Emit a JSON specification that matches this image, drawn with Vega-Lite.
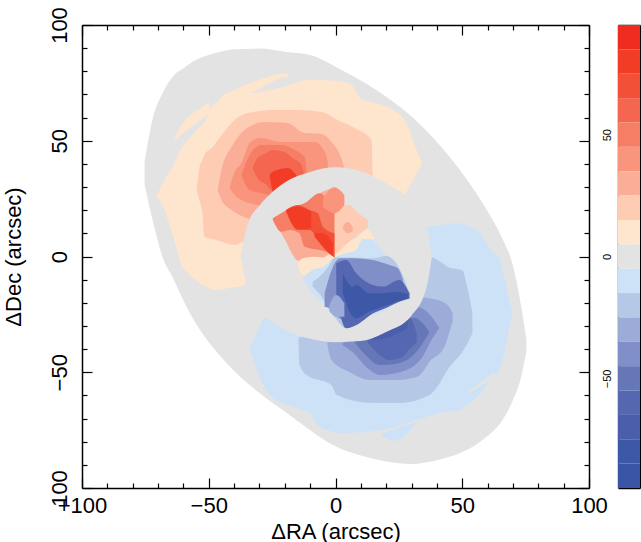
{"$schema":"https://vega.github.io/schema/vega-lite/v6.json","autosize":{"type":"none"},"padding":{"left":82,"top":25,"right":52,"bottom":54},"background":"white","config":{"view":{"stroke":null},"font":"Liberation Sans"},"datasets":{"cells":[
{"s":"grey","l":0,"x":-75.3,"y":41,"y2":31},{"s":"grey","l":0,"x":-72,"y":60,"y2":15},{"s":"grey","l":0,"x":-68,"y":71,"y2":-1},{"s":"grey","l":0,"x":-64,"y":78,"y2":-9.5},{"s":"grey","l":0,"x":-60,"y":81.3,"y2":-19},{"s":"grey","l":0,"x":-55,"y":85,"y2":-29},{"s":"grey","l":0,"x":-50,"y":87,"y2":-37},{"s":"grey","l":0,"x":-45,"y":88.5,"y2":-43.5},{"s":"grey","l":0,"x":-40,"y":89.5,"y2":-49.5},{"s":"grey","l":0,"x":-30,"y":89.8,"y2":-59},{"s":"grey","l":0,"x":-20,"y":88.4,"y2":-67},{"s":"grey","l":0,"x":-10,"y":87,"y2":-75},{"s":"grey","l":0,"x":0,"y":82,"y2":-82},{"s":"grey","l":0,"x":10,"y":76,"y2":-86},{"s":"grey","l":0,"x":20,"y":69,"y2":-88.5},{"s":"grey","l":0,"x":30,"y":60.5,"y2":-89.6},{"s":"grey","l":0,"x":40,"y":49.5,"y2":-88},{"s":"grey","l":0,"x":50,"y":36,"y2":-84.5},{"s":"grey","l":0,"x":60,"y":19.5,"y2":-77.5},{"s":"grey","l":0,"x":65,"y":9.5,"y2":-72},{"s":"grey","l":0,"x":70,"y":-4,"y2":-62},{"s":"grey","l":0,"x":73,"y":-20,"y2":-53},{"s":"grey","l":0,"x":75.3,"y":-36,"y2":-41},
{"s":"p10","l":10,"x":-70.6,"y":25.7,"y2":25.7},{"s":"p10","l":10,"x":-67.5,"y":33,"y2":20.5},{"s":"p10","l":10,"x":-65.5,"y":36.5,"y2":13.6},{"s":"p10","l":10,"x":-63.5,"y":40.4,"y2":6.7},{"s":"p10","l":10,"x":-60.7,"y":46.9,"y2":-4},{"s":"p10","l":10,"x":-58.4,"y":49.9,"y2":-6.7},{"s":"p10","l":10,"x":-53.6,"y":56,"y2":-11.4},{"s":"p10","l":10,"x":-51.7,"y":58,"y2":-12.7},{"s":"p10","l":10,"x":-50.1,"y":62.4,"y2":-13.6},{"s":"p10","l":10,"x":-46.9,"y":66.7,"y2":-14.5},{"s":"p10","l":10,"x":-41.8,"y":71,"y2":-13.6},{"s":"p10","l":10,"x":-35.9,"y":70.9,"y2":-12.3},{"s":"p10","l":10,"x":-32.7,"y":70.6,"y2":0},{"s":"p10","l":10,"x":-26,"y":71.9,"y2":0},{"s":"p10","l":10,"x":-22,"y":72.8,"y2":0},{"s":"p10","l":10,"x":-10.3,"y":76.2,"y2":0},{"s":"p10","l":10,"x":-6.3,"y":76.2,"y2":0},{"s":"p10","l":10,"x":5.5,"y":74.9,"y2":0},{"s":"p10","l":10,"x":10.7,"y":67.6,"y2":20},{"s":"p10","l":10,"x":16.2,"y":66.3,"y2":25},{"s":"p10","l":10,"x":27.2,"y":59,"y2":26.6},{"s":"p10","l":10,"x":28.4,"y":56.8,"y2":28.7},{"s":"p10","l":10,"x":31.2,"y":48.2,"y2":34.3},{"s":"p10","l":10,"x":34.3,"y":40.4,"y2":40.4},
{"s":"t1","l":10,"x":-63.5,"y":51.2,"y2":49.5},{"s":"t1","l":10,"x":-61.5,"y":55.5,"y2":51.8},{"s":"t1","l":10,"x":-52.5,"y":64.6,"y2":59.5},{"s":"t1","l":10,"x":-49.7,"y":66.7,"y2":62},
{"s":"t2","l":10,"x":-41.8,"y":71,"y2":69.8},{"s":"t2","l":10,"x":-32.7,"y":75.4,"y2":71},{"s":"t2","l":10,"x":-26,"y":77.9,"y2":74.9},{"s":"t2","l":10,"x":-19.3,"y":79.2,"y2":77.6},{"s":"t2","l":10,"x":-18.5,"y":77.5,"y2":77.5},
{"s":"p20","l":20,"x":-54.8,"y":28.7,"y2":28.7},{"s":"p20","l":20,"x":-53.6,"y":38.7,"y2":24},{"s":"p20","l":20,"x":-52.5,"y":41.7,"y2":18.8},{"s":"p20","l":20,"x":-51.7,"y":43.8,"y2":8.4},{"s":"p20","l":20,"x":-48.5,"y":47.3,"y2":7.6},{"s":"p20","l":20,"x":-45.8,"y":51.2,"y2":6.7},{"s":"p20","l":20,"x":-39.8,"y":59,"y2":5},{"s":"p20","l":20,"x":-34.7,"y":62,"y2":7},{"s":"p20","l":20,"x":-24,"y":63.3,"y2":7},{"s":"p20","l":20,"x":-15,"y":63.3,"y2":7},{"s":"p20","l":20,"x":-5.5,"y":62.4,"y2":7},{"s":"p20","l":20,"x":0.8,"y":59,"y2":7},{"s":"p20","l":20,"x":7.5,"y":55.5,"y2":7},{"s":"p20","l":20,"x":14.2,"y":50.3,"y2":20},{"s":"p20","l":20,"x":14.6,"y":36.5,"y2":33.9},
{"s":"p30","l":30,"x":-46.5,"y":28.7,"y2":28.7},{"s":"p30","l":30,"x":-45,"y":37.4,"y2":24.4},{"s":"p30","l":30,"x":-41,"y":47.3,"y2":20.1},{"s":"p30","l":30,"x":-35.9,"y":54.6,"y2":17},{"s":"p30","l":30,"x":-28,"y":58.1,"y2":15},{"s":"p30","l":30,"x":-18.9,"y":57.7,"y2":15},{"s":"p30","l":30,"x":-12.2,"y":53.3,"y2":15},{"s":"p30","l":30,"x":-5.5,"y":52.9,"y2":15},{"s":"p30","l":30,"x":-1.6,"y":49.5,"y2":15},{"s":"p30","l":30,"x":2.8,"y":40.8,"y2":20},{"s":"p30","l":30,"x":3.6,"y":37.4,"y2":30},
{"s":"p40","l":40,"x":-41.8,"y":29.6,"y2":29.6},{"s":"p40","l":40,"x":-39.8,"y":36.5,"y2":26.6},{"s":"p40","l":40,"x":-37.1,"y":40.4,"y2":24.4},{"s":"p40","l":40,"x":-33.9,"y":49,"y2":23.1},{"s":"p40","l":40,"x":-30,"y":51.2,"y2":22},{"s":"p40","l":40,"x":-21.3,"y":49.5,"y2":20},{"s":"p40","l":40,"x":-8.3,"y":49.5,"y2":20},{"s":"p40","l":40,"x":-3.6,"y":43.8,"y2":25},{"s":"p40","l":40,"x":-2.8,"y":37.4,"y2":30},
{"s":"p50","l":50,"x":-37.1,"y":35.2,"y2":35.2},{"s":"p50","l":50,"x":-33.9,"y":43.8,"y2":28.7},{"s":"p50","l":50,"x":-29.2,"y":48.2,"y2":27.4},{"s":"p50","l":50,"x":-21.3,"y":48.2,"y2":25},{"s":"p50","l":50,"x":-16.2,"y":46,"y2":25},{"s":"p50","l":50,"x":-12.2,"y":43,"y2":25},{"s":"p50","l":50,"x":-11.4,"y":36.5,"y2":30},
{"s":"p60","l":60,"x":-32.7,"y":38.2,"y2":38.2},{"s":"p60","l":60,"x":-30.8,"y":42.5,"y2":33.9},{"s":"p60","l":60,"x":-27.2,"y":44.7,"y2":30.9},{"s":"p60","l":60,"x":-24.9,"y":46,"y2":27.9},{"s":"p60","l":60,"x":-20.1,"y":45.1,"y2":25},{"s":"p60","l":60,"x":-17,"y":42.5,"y2":25},{"s":"p60","l":60,"x":-13.4,"y":39.5,"y2":25},{"s":"p60","l":60,"x":-12.6,"y":36.5,"y2":30},
{"s":"p70","l":80,"x":-26,"y":35.2,"y2":35.2},{"s":"p70","l":80,"x":-24.9,"y":36.5,"y2":28.7},{"s":"p70","l":80,"x":-22.9,"y":37.4,"y2":25},{"s":"p70","l":80,"x":-18.9,"y":38.2,"y2":25},{"s":"p70","l":80,"x":-15.4,"y":35.2,"y2":30},
{"s":"n10","l":-10,"x":-33.9,"y":-39.5,"y2":-39.5},{"s":"n10","l":-10,"x":-31,"y":-33,"y2":-49},{"s":"n10","l":-10,"x":-28,"y":-26.6,"y2":-56.4},{"s":"n10","l":-10,"x":-24.9,"y":-28,"y2":-60.7},{"s":"n10","l":-10,"x":-15.4,"y":-32,"y2":-65.4},{"s":"n10","l":-10,"x":-10.3,"y":-30,"y2":-67.6},{"s":"n10","l":-10,"x":-6.3,"y":-28,"y2":-73.6},{"s":"n10","l":-10,"x":2.8,"y":-20,"y2":-76.2},{"s":"n10","l":-10,"x":18.5,"y":-20,"y2":-74.9},{"s":"n10","l":-10,"x":32,"y":-10,"y2":-70.6},{"s":"n10","l":-10,"x":35.9,"y":12.3,"y2":-69.3},{"s":"n10","l":-10,"x":41,"y":13.5,"y2":-67.6},{"s":"n10","l":-10,"x":48.9,"y":14.5,"y2":-66.3},{"s":"n10","l":-10,"x":50.1,"y":14,"y2":-65.4},{"s":"n10","l":-10,"x":56.8,"y":10.2,"y2":-59.5},{"s":"n10","l":-10,"x":58.8,"y":7,"y2":-56.8},{"s":"n10","l":-10,"x":63.1,"y":1,"y2":-51.2},{"s":"n10","l":-10,"x":64.7,"y":-0.2,"y2":-49},{"s":"n10","l":-10,"x":65.9,"y":-5.8,"y2":-45},{"s":"n10","l":-10,"x":68.6,"y":-19,"y2":-30.5},{"s":"n10","l":-10,"x":69.8,"y":-24.4,"y2":-24.4},
{"s":"slit","l":0,"x":52,"y":-58.3,"y2":-59.4},{"s":"slit","l":0,"x":62.7,"y":-49.9,"y2":-52.5},
{"s":"strip","l":-10,"x":18.1,"y":-76.7,"y2":-77.2},{"s":"strip","l":-10,"x":23.3,"y":-74.5,"y2":-79.7},{"s":"strip","l":-10,"x":32,"y":-71.5,"y2":-71.5},
{"s":"n20","l":-20,"x":-14.6,"y":-35.2,"y2":-35.2},{"s":"n20","l":-20,"x":-14.2,"y":-35,"y2":-46.9},{"s":"n20","l":-20,"x":-11.4,"y":-34,"y2":-51.2},{"s":"n20","l":-20,"x":-1.6,"y":-30,"y2":-55.5},{"s":"n20","l":-20,"x":0.4,"y":-30,"y2":-59.8},{"s":"n20","l":-20,"x":14.6,"y":-25,"y2":-63.3},{"s":"n20","l":-20,"x":25.2,"y":-20,"y2":-63.3},{"s":"n20","l":-20,"x":37.1,"y":-0.2,"y2":-59.8},{"s":"n20","l":-20,"x":43,"y":-3.5,"y2":-51.2},{"s":"n20","l":-20,"x":44.2,"y":-4.5,"y2":-49},{"s":"n20","l":-20,"x":50.1,"y":-6,"y2":-41},{"s":"n20","l":-20,"x":51.7,"y":-12,"y2":-38.2},{"s":"n20","l":-20,"x":54,"y":-24.4,"y2":-33},
{"s":"n30","l":-30,"x":-3.2,"y":-37,"y2":-38.2},{"s":"n30","l":-30,"x":-1.6,"y":-36,"y2":-44.7},{"s":"n30","l":-30,"x":5.5,"y":-35,"y2":-49.9},{"s":"n30","l":-30,"x":13.4,"y":-32,"y2":-53.3},{"s":"n30","l":-30,"x":24,"y":-25,"y2":-53.3},{"s":"n30","l":-30,"x":32,"y":-17,"y2":-52},{"s":"n30","l":-30,"x":34.3,"y":-17.6,"y2":-50},{"s":"n30","l":-30,"x":37,"y":-18,"y2":-45.6},{"s":"n30","l":-30,"x":43,"y":-20,"y2":-39},{"s":"n30","l":-30,"x":44.2,"y":-21,"y2":-35.2},{"s":"n30","l":-30,"x":46.2,"y":-24.4,"y2":-28},
{"s":"n40","l":-40,"x":2.8,"y":-37.5,"y2":-38.2},{"s":"n40","l":-40,"x":6.7,"y":-36,"y2":-41.3},{"s":"n40","l":-40,"x":12.6,"y":-35,"y2":-48.2},{"s":"n40","l":-40,"x":17.4,"y":-32,"y2":-51.2},{"s":"n40","l":-40,"x":28,"y":-26,"y2":-49},{"s":"n40","l":-40,"x":30,"y":-24.4,"y2":-48},{"s":"n40","l":-40,"x":32.3,"y":-21.8,"y2":-46},{"s":"n40","l":-40,"x":34.3,"y":-22.5,"y2":-43.4},{"s":"n40","l":-40,"x":37.9,"y":-26,"y2":-36},{"s":"n40","l":-40,"x":41,"y":-30.9,"y2":-30.9},
{"s":"n50","l":-50,"x":7.5,"y":-36.5,"y2":-36.9},{"s":"n50","l":-50,"x":12.6,"y":-35,"y2":-43.4},{"s":"n50","l":-50,"x":17.4,"y":-32,"y2":-46.9},{"s":"n50","l":-50,"x":25.2,"y":-28,"y2":-46},{"s":"n50","l":-50,"x":31.2,"y":-26.5,"y2":-42},{"s":"n50","l":-50,"x":33.1,"y":-27.5,"y2":-39.5},{"s":"n50","l":-50,"x":37.1,"y":-32.6,"y2":-32.6},
{"s":"n60","l":-60,"x":12.6,"y":-34.5,"y2":-37},{"s":"n60","l":-60,"x":17.4,"y":-31.8,"y2":-42.5},{"s":"n60","l":-60,"x":21.3,"y":-29.6,"y2":-44.7},{"s":"n60","l":-60,"x":26.4,"y":-26.5,"y2":-43.4},{"s":"n60","l":-60,"x":29.2,"y":-26.5,"y2":-40},{"s":"n60","l":-60,"x":32,"y":-33,"y2":-37.4},
{"s":"n70","l":-70,"x":14.2,"y":-30,"y2":-36},{"s":"n70","l":-70,"x":19.3,"y":-30,"y2":-35.5},{"s":"n70","l":-70,"x":24,"y":-28,"y2":-33.5},{"s":"n70","l":-70,"x":28.4,"y":-26,"y2":-31},
{"s":"ring","l":0,"x":-37.5,"y":-0.2,"y2":-0.2},{"s":"ring","l":0,"x":-35,"y":12.7,"y2":-12.3},{"s":"ring","l":0,"x":-30,"y":22,"y2":-23.1},{"s":"ring","l":0,"x":-27,"y":25.7,"y2":-26.5},{"s":"ring","l":0,"x":-20,"y":32,"y2":-31.7},{"s":"ring","l":0,"x":-10,"y":36.5,"y2":-35.5},{"s":"ring","l":0,"x":0,"y":38.5,"y2":-37},{"s":"ring","l":0,"x":10,"y":36.8,"y2":-36.5},{"s":"ring","l":0,"x":20,"y":31.5,"y2":-32.6},{"s":"ring","l":0,"x":30,"y":23.5,"y2":-25.5},{"s":"ring","l":0,"x":36,"y":12.7,"y2":-13},{"s":"ring","l":0,"x":38,"y":-0.2,"y2":-0.2},
{"s":"b10","l":-10,"x":-14.9,"y":-2.95,"y2":-2.95},{"s":"b10","l":-10,"x":-12.9,"y":-0.8,"y2":-8.7},{"s":"b10","l":-10,"x":-4.3,"y":0.6,"y2":-20.9},{"s":"b10","l":-10,"x":8.2,"y":7.9,"y2":-29.6},{"s":"b10","l":-10,"x":12.8,"y":7.9,"y2":-26},{"s":"b10","l":-10,"x":20,"y":0.6,"y2":-23.1},{"s":"b10","l":-10,"x":24,"y":-2.95,"y2":-19.5},{"s":"b10","l":-10,"x":29.2,"y":-15.9,"y2":-18.1},
{"s":"b20","l":-20,"x":-9,"y":-10.9,"y2":-13},{"s":"b20","l":-20,"x":-5,"y":-7.3,"y2":-18.1},{"s":"b20","l":-20,"x":-2.4,"y":-3.7,"y2":-23.1},{"s":"b20","l":-20,"x":-0.4,"y":-0.4,"y2":-26},{"s":"b20","l":-20,"x":4.2,"y":-0.4,"y2":-31},{"s":"b20","l":-20,"x":8.2,"y":-0.4,"y2":-29.6},{"s":"b20","l":-20,"x":14.7,"y":-0.8,"y2":-24.6},{"s":"b20","l":-20,"x":20,"y":0.2,"y2":-22},{"s":"b20","l":-20,"x":24,"y":-2.95,"y2":-19.8},{"s":"b20","l":-20,"x":29.2,"y":-15.9,"y2":-18.1},
{"s":"b40","l":-40,"x":-4.3,"y":-15.9,"y2":-21.7},{"s":"b40","l":-40,"x":-1,"y":-4.4,"y2":-23.1},{"s":"b40","l":-40,"x":1.6,"y":-0.8,"y2":-26.7},{"s":"b40","l":-40,"x":6.8,"y":-0.8,"y2":-28.2},{"s":"b40","l":-40,"x":14.7,"y":-1.5,"y2":-24.3},{"s":"b40","l":-40,"x":21.3,"y":-3.7,"y2":-20.9},{"s":"b40","l":-40,"x":24.6,"y":-5.1,"y2":-19.5},{"s":"b40","l":-40,"x":26.6,"y":-10.1,"y2":-18.8},
{"s":"b60","l":-60,"x":0.3,"y":-2.95,"y2":-17.3},{"s":"b60","l":-60,"x":4.2,"y":-1.5,"y2":-31},{"s":"b60","l":-60,"x":8.2,"y":-7.3,"y2":-29.6},{"s":"b60","l":-60,"x":14.7,"y":-12.3,"y2":-24.6},{"s":"b60","l":-60,"x":18.7,"y":-13,"y2":-22.8},{"s":"b60","l":-60,"x":25.2,"y":-10.1,"y2":-19.5},{"s":"b60","l":-60,"x":29.2,"y":-15.9,"y2":-18.1},
{"s":"b30","l":-30,"x":-2.4,"y":-20.9,"y2":-23.8},{"s":"b30","l":-30,"x":0.3,"y":-16.6,"y2":-26},{"s":"b30","l":-30,"x":3.5,"y":-20.2,"y2":-26},
{"s":"b80","l":-80,"x":2.9,"y":-7.3,"y2":-15.9},{"s":"b80","l":-80,"x":6.8,"y":-13,"y2":-26},{"s":"b80","l":-80,"x":8.2,"y":-12.3,"y2":-26.7},{"s":"b80","l":-80,"x":13.4,"y":-15.9,"y2":-23.8},{"s":"b80","l":-80,"x":18.7,"y":-15.9,"y2":-21.7},{"s":"b80","l":-80,"x":24,"y":-15.2,"y2":-19.5},{"s":"b80","l":-80,"x":28.5,"y":-16.2,"y2":-18.1},
{"s":"r30","l":30,"x":-24.7,"y":16.5,"y2":15.8},{"s":"r30","l":30,"x":-21.4,"y":18.7,"y2":10},{"s":"r30","l":30,"x":-19.5,"y":20.1,"y2":6.4},{"s":"r30","l":30,"x":-16.8,"y":21.2,"y2":0.6},{"s":"r30","l":30,"x":-14.9,"y":21.8,"y2":-1.8},{"s":"r30","l":30,"x":-12.2,"y":23,"y2":-1.5},{"s":"r30","l":30,"x":-6.3,"y":27.3,"y2":-0.4},{"s":"r30","l":30,"x":-0.4,"y":29.9,"y2":-0.4},
{"s":"r10","l":10,"x":-14.9,"y":-2.95,"y2":-3.7},{"s":"r10","l":10,"x":-12.9,"y":-0.8,"y2":-8.4},{"s":"r10","l":10,"x":-9,"y":-0.1,"y2":-5.8},{"s":"r10","l":10,"x":-5,"y":-0.4,"y2":-4.4},{"s":"r10","l":10,"x":-0.4,"y":3.5,"y2":-0.4},{"s":"r10","l":10,"x":4.2,"y":7.1,"y2":1.4},{"s":"r10","l":10,"x":8.2,"y":7.9,"y2":2.8},{"s":"r10","l":10,"x":10.8,"y":10.7,"y2":7.6},{"s":"r10","l":10,"x":12.8,"y":11.7,"y2":7.4},{"s":"r10","l":10,"x":15.4,"y":7.9,"y2":7.6},
{"s":"r20","l":20,"x":-0.4,"y":21.5,"y2":0.6},{"s":"r20","l":20,"x":5.5,"y":22.3,"y2":6.4},{"s":"r20","l":20,"x":8.2,"y":19.4,"y2":8.6},{"s":"r20","l":20,"x":12.8,"y":15.8,"y2":12.6},
{"s":"r31","l":30,"x":2.9,"y":13,"y2":12},{"s":"r31","l":30,"x":4.8,"y":15,"y2":10},{"s":"r31","l":30,"x":6.8,"y":12.5,"y2":11},
{"s":"r50","l":50,"x":-24.7,"y":16.5,"y2":15.8},{"s":"r50","l":50,"x":-21.4,"y":18.7,"y2":10.7},{"s":"r50","l":50,"x":-18.1,"y":20.5,"y2":11.5},{"s":"r50","l":50,"x":-14.2,"y":22.2,"y2":10},{"s":"r50","l":50,"x":-12.2,"y":23,"y2":4.2},{"s":"r50","l":50,"x":-6.3,"y":27.3,"y2":2.8},{"s":"r50","l":50,"x":-2.4,"y":23,"y2":1.4},{"s":"r50","l":50,"x":-0.4,"y":18.7,"y2":-0.4},
{"s":"r40","l":40,"x":-5,"y":25.1,"y2":21.5},{"s":"r40","l":40,"x":-0.4,"y":29.9,"y2":18.7},{"s":"r40","l":40,"x":3.5,"y":26.6,"y2":22.3},
{"s":"r70","l":70,"x":-19.5,"y":20.1,"y2":19.4},{"s":"r70","l":70,"x":-14.9,"y":22.2,"y2":11.5},{"s":"r70","l":70,"x":-10.3,"y":20.1,"y2":11.5},{"s":"r70","l":70,"x":-7,"y":18.7,"y2":7.9},{"s":"r70","l":70,"x":-5,"y":12.9,"y2":4.2},{"s":"r70","l":70,"x":-0.4,"y":10,"y2":-0.4},
{"s":"r80","l":80,"x":-19.5,"y":20.1,"y2":19.8},{"s":"r80","l":80,"x":-14.9,"y":21.5,"y2":11.8},{"s":"r80","l":80,"x":-9.6,"y":19.4,"y2":12.2},
{"s":"r81","l":80,"x":-8.3,"y":10,"y2":8.6},{"s":"r81","l":80,"x":-5,"y":10,"y2":4.2},{"s":"r81","l":80,"x":-1,"y":5.7,"y2":0.2}
],
"bar":[{"l":90,"a":85,"b":95,"u":0,"w":1},{"l":80,"a":75,"b":85,"u":0,"w":1},{"l":70,"a":65,"b":75,"u":0,"w":1},{"l":60,"a":55,"b":65,"u":0,"w":1},{"l":50,"a":45,"b":55,"u":0,"w":1},{"l":40,"a":35,"b":45,"u":0,"w":1},{"l":30,"a":25,"b":35,"u":0,"w":1},{"l":20,"a":15,"b":25,"u":0,"w":1},{"l":10,"a":5,"b":15,"u":0,"w":1},{"l":0,"a":-5,"b":5,"u":0,"w":1},{"l":-10,"a":-15,"b":-5,"u":0,"w":1},{"l":-20,"a":-25,"b":-15,"u":0,"w":1},{"l":-30,"a":-35,"b":-25,"u":0,"w":1},{"l":-40,"a":-45,"b":-35,"u":0,"w":1},{"l":-50,"a":-55,"b":-45,"u":0,"w":1},{"l":-60,"a":-65,"b":-55,"u":0,"w":1},{"l":-70,"a":-75,"b":-65,"u":0,"w":1},{"l":-80,"a":-85,"b":-75,"u":0,"w":1},{"l":-90,"a":-95,"b":-85,"u":0,"w":1}]},
"width":507,"height":463,"resolve":{"scale":{"x":"independent","y":"independent"},"axis":{"x":"independent","y":"independent"}},"layer":[
{"data":{"name":"cells"},"mark":{"type":"area","interpolate":"monotone"},"encoding":{
"x":{"field":"x","type":"quantitative","scale":{"domain":[-100,100],"nice":false,"zero":false},"axis":{"orient":"bottom","title":"ΔRA (arcsec)","titleFontSize":22,"titleFontWeight":"normal","titleFont":"Liberation Sans","titleColor":"#000","titlePadding":0,"values":[-100,-90,-80,-70,-60,-50,-40,-30,-20,-10,0,10,20,30,40,50,60,70,80,90,100],"labelExpr":"datum.value==-100?'+100':datum.value==-50?'−50':datum.value%50==0?datum.label:''","labelFontSize":22,"labelColor":"#000","labelFont":"Liberation Sans","labelOverlap":false,"labelFlush":false,"labelPadding":17,"labelAngle":0,"grid":false,"domainColor":"#000","domainWidth":1.5,"tickColor":"#000","tickWidth":1.2,"tickSize":{"condition":{"test":"datum.value%50==0","value":-10},"value":-5}}},
"y":{"field":"y","type":"quantitative","scale":{"domain":[-100,100],"nice":false,"zero":false},"axis":{"orient":"left","title":"ΔDec (arcsec)","titleFontSize":22,"titleFontWeight":"normal","titleFont":"Liberation Sans","titleColor":"#000","titlePadding":18,"values":[-100,-90,-80,-70,-60,-50,-40,-30,-20,-10,0,10,20,30,40,50,60,70,80,90,100],"labelExpr":"datum.value==-100?'\u00a0\u00a0\u00a0100':datum.value==-50?'−50':datum.value%50==0?datum.label:''","labelFontSize":22,"labelColor":"#000","labelFont":"Liberation Sans","labelOverlap":false,"labelFlush":false,"labelPadding":21,"labelAngle":270,"grid":false,"domainColor":"#000","domainWidth":1.5,"tickColor":"#000","tickWidth":1.2,"tickSize":{"condition":{"test":"datum.value%50==0","value":-10},"value":-5}}},
"y2":{"field":"y2"},
"detail":{"field":"s","type":"nominal"},
"color":{"field":"l","type":"ordinal","legend":null,"scale":{"domain":[-90,-80,-70,-60,-50,-40,-30,-20,-10,0,10,20,30,40,50,60,70,80,90],"range":["#3a55a6","#3e58a8","#4a5eab","#5567b0","#6677b8","#808fc8","#9dabd9","#b5c8e6","#cde2f6","#e3e3e3","#fee5cd","#fdccb3","#fbae97","#f9947d","#f67e65","#f56650","#f35038","#f23c25","#f02b20"]}}
}},
{"data":{"values":[{"x":0,"y":0}]},"mark":{"type":"point","opacity":0},"encoding":{
"x":{"field":"x","type":"quantitative","scale":{"domain":[-100,100],"nice":false,"zero":false},"axis":{"orient":"top","title":null,"labels":false,"values":[-100,-90,-80,-70,-60,-50,-40,-30,-20,-10,0,10,20,30,40,50,60,70,80,90,100],"grid":false,"domainColor":"#000","domainWidth":1.5,"tickColor":"#000","tickWidth":1.2,"tickSize":{"condition":{"test":"datum.value%50==0","value":-10},"value":-5}}},
"y":{"field":"y","type":"quantitative","scale":{"domain":[-100,100],"nice":false,"zero":false},"axis":{"orient":"right","title":null,"labels":false,"values":[-100,-90,-80,-70,-60,-50,-40,-30,-20,-10,0,10,20,30,40,50,60,70,80,90,100],"grid":false,"domainColor":"#000","domainWidth":1.5,"tickColor":"#000","tickWidth":1.2,"tickSize":{"condition":{"test":"datum.value%50==0","value":-10},"value":-5}}}
}},
{"data":{"name":"bar"},"mark":{"type":"rect"},"encoding":{
"x":{"field":"u","type":"quantitative","scale":{"domain":[0,1],"range":[536,558],"nice":false,"zero":false},"axis":{"orient":"top","title":null,"labels":false,"ticks":false,"grid":false,"domainColor":"#000","domainWidth":1.5}},
"x2":{"field":"w"},
"y":{"field":"a","type":"quantitative","scale":{"domain":[-95,95],"nice":false,"zero":false},"axis":{"orient":"left","offset":-536,"title":null,"values":[-90,-80,-70,-60,-50,-40,-30,-20,-10,0,10,20,30,40,50,60,70,80,90],"labelExpr":"datum.value==-50?'−50':datum.value%50==0?datum.label:''","labelFontSize":11,"labelColor":"#000","labelFont":"Liberation Sans","labelOverlap":false,"labelFlush":false,"labelPadding":10,"labelAngle":270,"grid":false,"domainColor":"#555","domainWidth":1.5,"tickColor":"#000","tickWidth":1,"tickSize":{"condition":{"test":"datum.value%50==0","value":-4.5},"value":-2}}},
"y2":{"field":"b"},
"color":{"field":"l","type":"ordinal","legend":null,"scale":{"domain":[-90,-80,-70,-60,-50,-40,-30,-20,-10,0,10,20,30,40,50,60,70,80,90],"range":["#3a55a6","#3e58a8","#4a5eab","#5567b0","#6677b8","#808fc8","#9dabd9","#b5c8e6","#cde2f6","#e3e3e3","#fee5cd","#fdccb3","#fbae97","#f9947d","#f67e65","#f56650","#f35038","#f23c25","#f02b20"]}}
}},
{"data":{"values":[{"u":0,"a":0}]},"mark":{"type":"point","opacity":0},"encoding":{
"x":{"field":"u","type":"quantitative","scale":{"domain":[0,1],"range":[536,558],"nice":false,"zero":false},"axis":{"orient":"bottom","title":null,"labels":false,"ticks":false,"grid":false,"domainColor":"#000","domainWidth":1.5}},
"y":{"field":"a","type":"quantitative","scale":{"domain":[-95,95],"nice":false,"zero":false},"axis":{"orient":"right","offset":51,"title":null,"labels":false,"values":[-90,-80,-70,-60,-50,-40,-30,-20,-10,0,10,20,30,40,50,60,70,80,90],"grid":false,"domainColor":"#000","domainWidth":1.5,"tickColor":"#000","tickWidth":1,"tickSize":{"condition":{"test":"datum.value%50==0","value":-4.5},"value":-2}}}
}}
]}
